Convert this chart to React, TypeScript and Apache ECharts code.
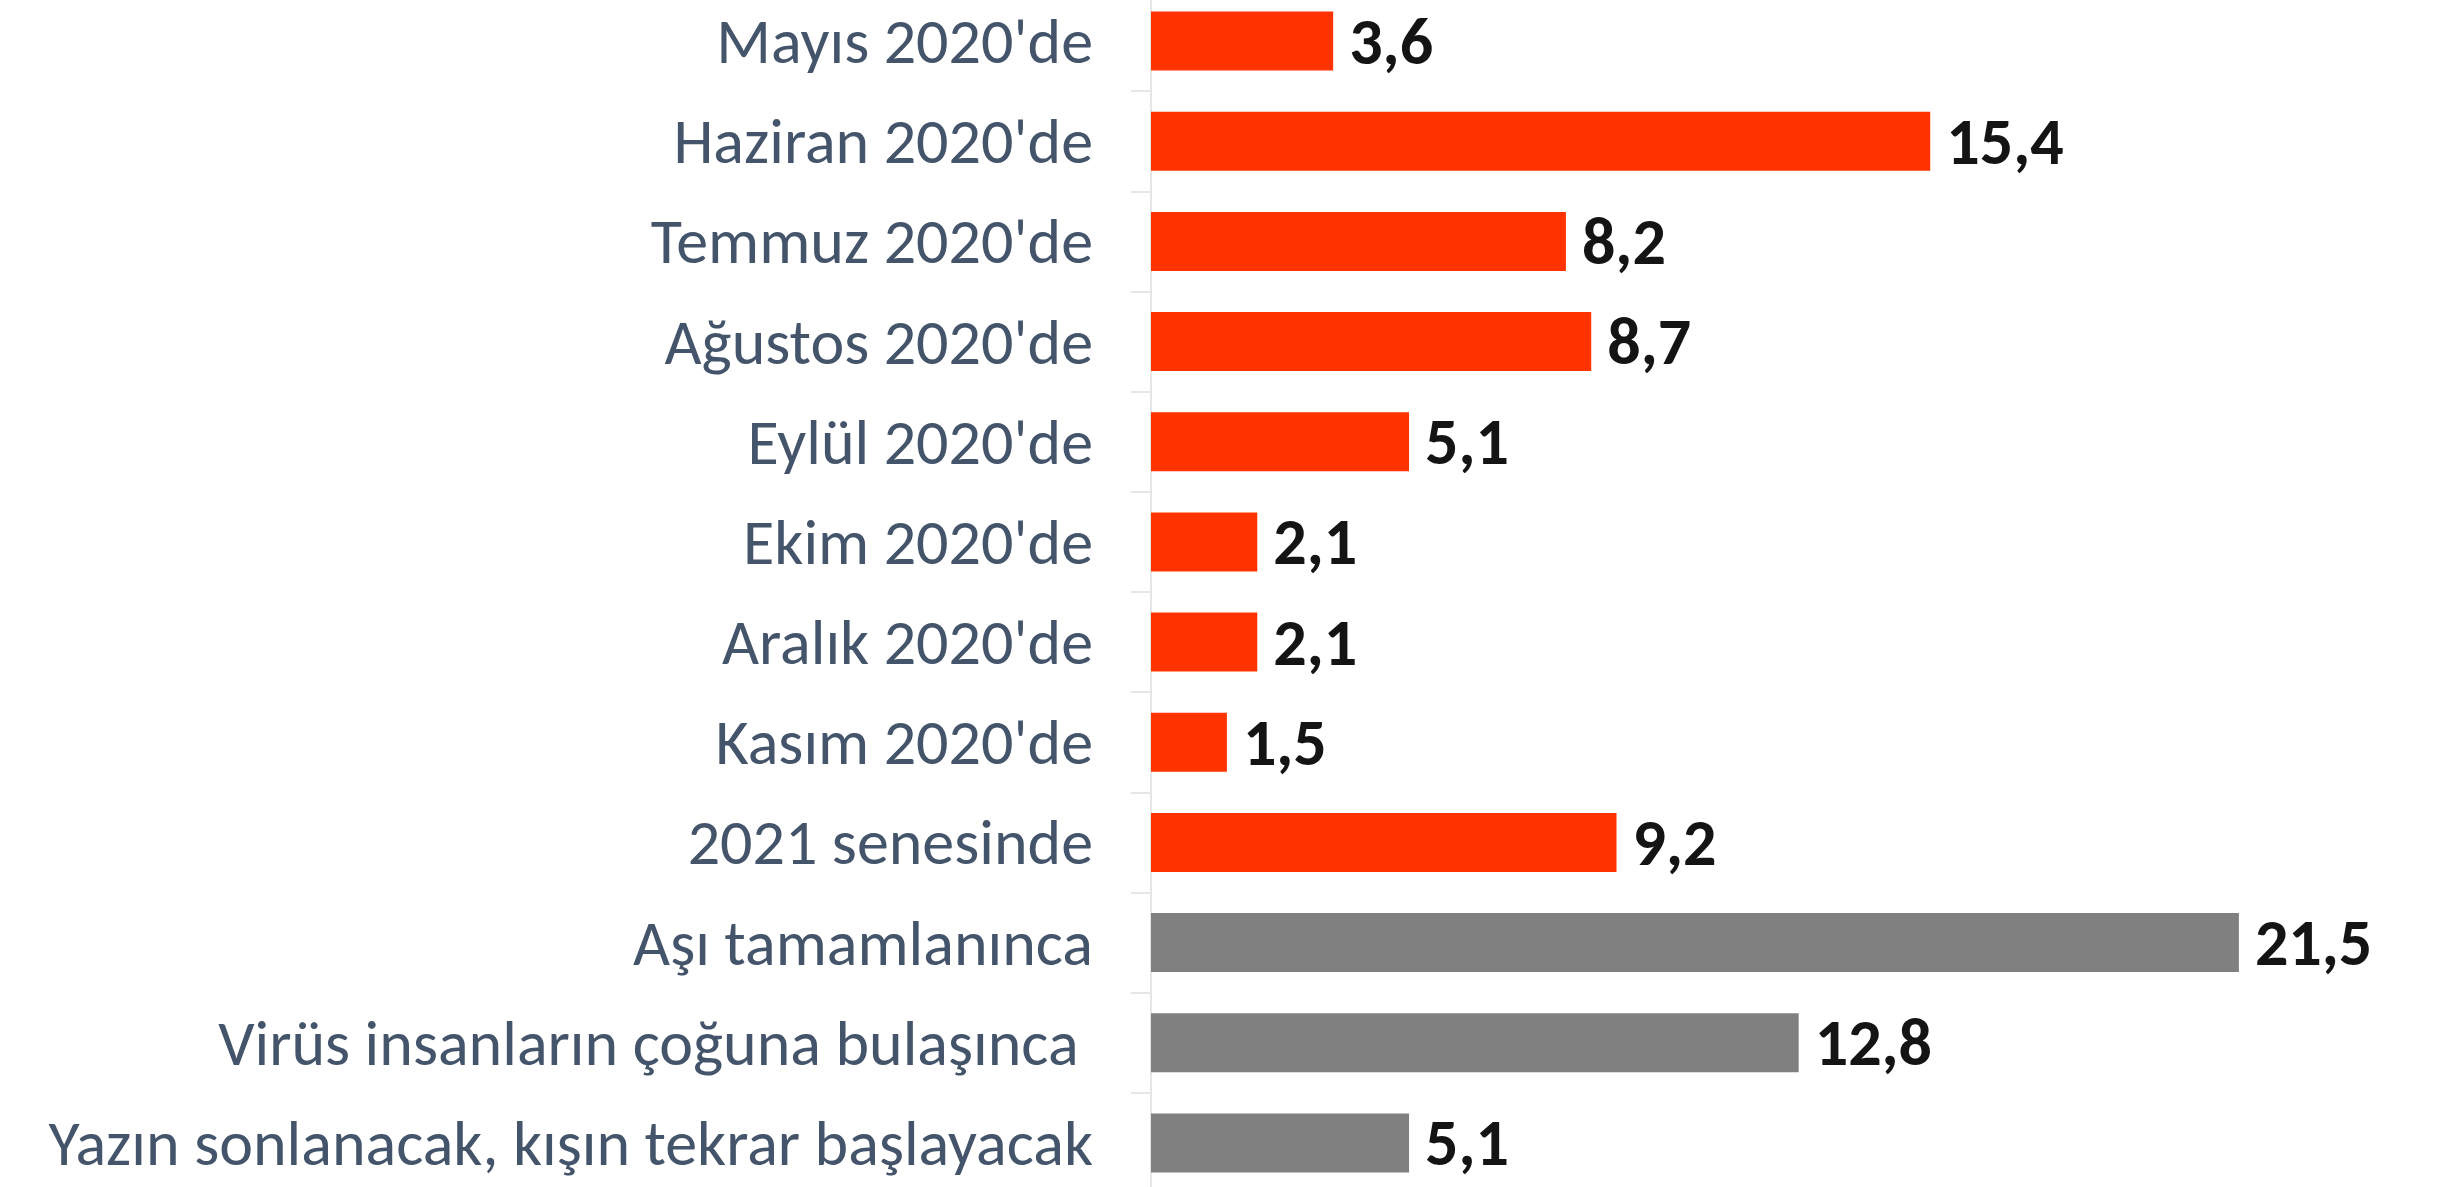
import React, { useEffect, useRef } from "react";
import * as echarts from "echarts";

const categories = [
  "Mayıs 2020'de",
  "Haziran 2020'de",
  "Temmuz 2020'de",
  "Ağustos 2020'de",
  "Eylül 2020'de",
  "Ekim 2020'de",
  "Aralık 2020'de",
  "Kasım 2020'de",
  "2021 senesinde",
  "Aşı tamamlanınca",
  "Virüs insanların çoğuna bulaşınca ",
  "Yazın sonlanacak, kışın tekrar başlayacak",
];
const values = [3.6, 15.4, 8.2, 8.7, 5.1, 2.1, 2.1, 1.5, 9.2, 21.5, 12.8, 5.1];
const redCount = 9;
const RED = "#FF3300";
const GRAY = "#808080";

export default function App() {
  const ref = useRef<HTMLDivElement>(null);
  useEffect(() => {
    if (!ref.current) return;
    const chart = echarts.init(ref.current, null, { renderer: "svg" });
    const FONT = "Carlito, Lato, 'Open Sans', sans-serif";
    chart.setOption({
      animation: false,
      grid: {
        left: 1151,
        top: -9,
        height: 1202,
        width: 1265,
        containLabel: false,
        outerBoundsMode: "none",
      },
      xAxis: {
        type: "value",
        min: 0,
        max: 25,
        show: false,
        splitLine: { show: false },
      },
      yAxis: {
        type: "category",
        inverse: true,
        data: categories,
        axisLine: { show: true, lineStyle: { color: "#e6e6e6", width: 2 } },
        axisTick: { show: true, length: 20, lineStyle: { color: "#e6e6e6", width: 2 } },
        axisLabel: {
          margin: 58,
          color: "#44546A",
          fontFamily: FONT,
          fontSize: 64,
          lineHeight: 60,
        },
        splitLine: { show: false },
      },
      series: [
        {
          type: "bar",
          data: values.map((v, i) => ({
            value: v,
            itemStyle: { color: i < redCount ? RED : GRAY },
          })),
          barWidth: 59,
          label: {
            show: true,
            position: "right",
            distance: 16,
            color: "#141414",
            fontFamily: FONT,
            fontWeight: "bold",
            fontSize: 66,
            lineHeight: 60,
            formatter: (p: any) => String(p.value).replace(".", ","),
          },
        },
      ],
    });
    return () => chart.dispose();
  }, []);
  return (
    <div
      ref={ref}
      style={{ position: "absolute", left: 0, top: 0, width: 2443, height: 1187, background: "#fff" }}
    />
  );
}
